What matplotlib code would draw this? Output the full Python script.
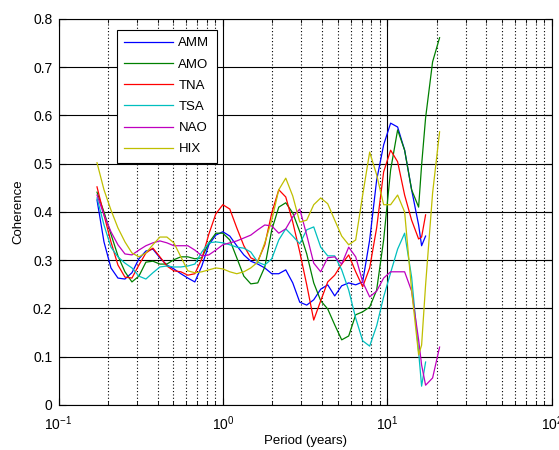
import numpy as np
import matplotlib
matplotlib.use('Agg')
import matplotlib.pyplot as plt
from matplotlib.ticker import LogLocator, NullFormatter, NullLocator

# period axis (years), shared by all series
period = [0.1714, 0.1890, 0.2084, 0.2298, 0.2535, 0.2796, 0.3083, 0.3400, 0.3750, 0.4136,
          0.4561, 0.5030, 0.5548, 0.6118, 0.6748, 0.7442, 0.8208, 0.9053, 0.9986, 1.101,
          1.214, 1.340, 1.477, 1.629, 1.797, 1.982, 2.186, 2.411, 2.659, 2.933,
          3.234, 3.567, 3.934, 4.339, 4.786, 5.278, 5.821, 6.421, 7.079, 7.808,
          8.610, 9.497, 10.47, 11.55, 12.74, 14.05, 15.50, 16.16, 17.09, 18.85, 20.79]

nan = np.nan

amm = [0.425, 0.338, 0.284, 0.263, 0.261, 0.274, 0.303, 0.319, 0.323, 0.305,
       0.290, 0.282, 0.272, 0.263, 0.255, 0.288, 0.332, 0.352, 0.359, 0.350,
       0.330, 0.311, 0.298, 0.292, 0.284, 0.272, 0.272, 0.280, 0.253, 0.213,
       0.207, 0.218, 0.240, 0.249, 0.226, 0.247, 0.253, 0.249, 0.255, 0.342,
       0.466, 0.539, 0.584, 0.576, 0.528, 0.446, 0.373, 0.330, 0.350, nan, nan]

amo = [0.441, 0.400, 0.354, 0.309, 0.276, 0.255, 0.267, 0.296, 0.298, 0.292,
       0.292, 0.301, 0.307, 0.307, 0.303, 0.305, 0.336, 0.356, 0.356, 0.342,
       0.305, 0.267, 0.251, 0.253, 0.286, 0.363, 0.410, 0.419, 0.398, 0.359,
       0.313, 0.253, 0.216, 0.199, 0.166, 0.135, 0.143, 0.187, 0.193, 0.203,
       0.238, 0.342, 0.487, 0.570, 0.528, 0.446, 0.410, 0.497, 0.595, 0.711, 0.761]

tna = [0.452, 0.394, 0.338, 0.290, 0.265, 0.263, 0.290, 0.315, 0.325, 0.307,
       0.288, 0.278, 0.276, 0.269, 0.272, 0.303, 0.354, 0.396, 0.415, 0.406,
       0.367, 0.330, 0.305, 0.298, 0.332, 0.398, 0.446, 0.431, 0.379, 0.317,
       0.249, 0.176, 0.216, 0.255, 0.269, 0.292, 0.311, 0.276, 0.245, 0.284,
       0.367, 0.483, 0.528, 0.504, 0.435, 0.383, 0.344, 0.348, 0.394, nan, nan]

tsa = [0.429, 0.373, 0.327, 0.307, 0.294, 0.284, 0.267, 0.261, 0.274, 0.286,
       0.288, 0.286, 0.286, 0.288, 0.292, 0.317, 0.336, 0.338, 0.336, 0.332,
       0.327, 0.325, 0.317, 0.296, 0.290, 0.303, 0.342, 0.365, 0.350, 0.334,
       0.363, 0.369, 0.327, 0.309, 0.309, 0.280, 0.238, 0.180, 0.133, 0.122,
       0.164, 0.224, 0.274, 0.323, 0.356, 0.265, 0.110, 0.039, 0.089, nan, nan]

nao = [0.435, 0.394, 0.359, 0.332, 0.313, 0.311, 0.321, 0.330, 0.336, 0.340,
       0.336, 0.330, 0.330, 0.330, 0.321, 0.309, 0.311, 0.321, 0.332, 0.336,
       0.340, 0.346, 0.352, 0.363, 0.373, 0.371, 0.356, 0.365, 0.390, 0.406,
       0.352, 0.294, 0.276, 0.305, 0.307, 0.292, 0.327, 0.307, 0.255, 0.224,
       0.236, 0.263, 0.276, 0.276, 0.276, 0.236, 0.135, 0.083, 0.041, 0.056, 0.120]

hix = [0.502, 0.446, 0.404, 0.367, 0.338, 0.315, 0.307, 0.315, 0.332, 0.348,
       0.348, 0.336, 0.307, 0.278, 0.274, 0.276, 0.280, 0.284, 0.282, 0.276,
       0.272, 0.276, 0.284, 0.296, 0.336, 0.383, 0.446, 0.470, 0.433, 0.379,
       0.383, 0.415, 0.429, 0.417, 0.383, 0.350, 0.332, 0.342, 0.435, 0.524,
       0.477, 0.415, 0.415, 0.435, 0.400, 0.238, 0.104, 0.124, 0.249, 0.439, 0.566]

names = ['AMM', 'AMO', 'TNA', 'TSA', 'NAO', 'HIX']
series = [amm, amo, tna, tsa, nao, hix]
colors = ['#0000ff', '#008000', '#ff0000', '#00bfbf', '#bf00bf', '#bfbf00']

yticks = [0, 0.1, 0.2, 0.3, 0.4, 0.5, 0.6, 0.7, 0.8]
ytick_labels = ['0', '0.1', '0.2', '0.3', '0.4', '0.5', '0.6', '0.7', '0.8']
xticks = [0.1, 1, 10, 100]

plt.rcParams['font.family'] = 'Liberation Sans'
plt.rcParams['mathtext.default'] = 'regular'

fig = plt.figure(figsize=(5.59, 4.5), dpi=100)
ax = fig.add_axes([0.1047, 0.1, 0.8823, 0.858])

for name, vals, col in zip(names, series, colors):
    ax.plot(period, vals, color=col, lw=0.9, label=name)

ax.set_xscale('log')
ax.set_xlim(0.1, 100)
ax.set_ylim(0, 0.8)
ax.set_xticks(xticks)
ax.xaxis.set_minor_locator(LogLocator(base=10, subs=np.arange(2, 10)))
ax.xaxis.set_minor_formatter(NullFormatter())
ax.yaxis.set_minor_locator(NullLocator())
ax.set_yticks(yticks)
ax.set_yticklabels(ytick_labels)

# matlab style grid
ax.grid(True, which='major', color='k', lw=0.8, ls='-')
ax.grid(True, which='minor', axis='x', color='k', lw=0.8, ls=(0, (1, 2)))
ax.set_axisbelow(True)
ax.tick_params(which='major', direction='in', top=True, right=True, length=5, width=0.8, labelsize=10)
ax.tick_params(axis='x', which='major', pad=6.5)
ax.tick_params(axis='y', which='major', pad=4.5)
ax.tick_params(which='minor', direction='in', top=True, length=3, width=0.6)
for s in ax.spines.values():
    s.set_linewidth(0.8)

ax.set_xlabel('Period (years)', fontsize=9.5, labelpad=2)
ax.set_ylabel('Coherence', fontsize=9.5, labelpad=6)

leg = ax.legend(loc='upper left', bbox_to_anchor=(0.1186, 0.9715), borderaxespad=0,
                fancybox=False, edgecolor='k', framealpha=1, handlelength=3.7,
                fontsize=9.5, labelspacing=0.68, borderpad=0.55, handletextpad=0.4)
leg.get_frame().set_linewidth(0.8)

fig.savefig('out.png', dpi=100)
